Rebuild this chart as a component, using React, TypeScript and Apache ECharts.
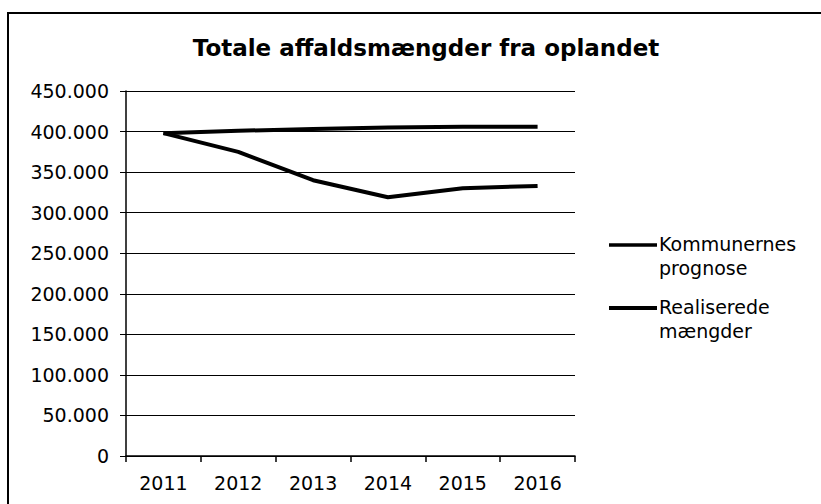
import React, { useEffect, useRef } from "react";
import * as echarts from "echarts";

const categories = ["2011", "2012", "2013", "2014", "2015", "2016"];
const kommunernesPrognose = [398000, 401000, 403000, 405000, 406000, 406000];
const realiseredeMaengder = [398000, 375000, 340000, 319000, 330000, 333000];
const legendLabels = ["Kommunernes\nprognose", "Realiserede\nmængder"];
const titleText = "Totale affaldsmængder fra oplandet";

const FONT = "DejaVu Sans";

function fmt(v: number): string {
  return String(Math.round(v)).replace(/\B(?=(\d{3})+(?!\d))/g, ".");
}

export default function App() {
  const ref = useRef<HTMLDivElement>(null);
  useEffect(() => {
    if (!ref.current) return;
    const chart = echarts.init(ref.current, null, { renderer: "svg" });
    chart.setOption({
      animation: false,
      backgroundColor: "#ffffff",
      title: {
        text: titleText,
        left: 421,
        top: 31,
        textAlign: "center",
        textStyle: { fontFamily: FONT, fontWeight: "bold", fontSize: 23, color: "#000" },
      },
      grid: { left: 126, right: 246, top: 91, bottom: 48 },
      xAxis: {
        type: "category",
        data: categories,
        boundaryGap: true,
        axisLine: { show: true, lineStyle: { color: "#000", width: 1.5 } },
        axisTick: { show: true, length: 6, interval: 0, lineStyle: { color: "#000", width: 1.5 } },
        axisLabel: { margin: 17, fontFamily: FONT, fontSize: 19, color: "#000" },
        splitLine: { show: false },
      },
      yAxis: {
        type: "value",
        min: 0,
        max: 450000,
        interval: 50000,
        axisLine: { show: true, lineStyle: { color: "#000", width: 1.5 } },
        axisTick: { show: true, length: 6, lineStyle: { color: "#000", width: 1 } },
        axisLabel: { margin: 17, fontFamily: FONT, fontSize: 19, color: "#000", formatter: (v: number) => fmt(v) },
        splitLine: { show: true, lineStyle: { color: "#000", width: 1 } },
      },
      series: [
        {
          name: "Kommunernes prognose",
          type: "line",
          data: kommunernesPrognose,
          showSymbol: false,
          symbol: "none",
          lineStyle: { color: "#000", width: 4 },
          itemStyle: { color: "#000" },
        },
        {
          name: "Realiserede mængder",
          type: "line",
          data: realiseredeMaengder,
          showSymbol: false,
          symbol: "none",
          lineStyle: { color: "#000", width: 4 },
          itemStyle: { color: "#000" },
        },
      ],
      graphic: [
        {
          type: "rect",
          shape: { x: 8, y: 13, width: 900, height: 600 },
          style: { fill: "none", stroke: "#000", lineWidth: 2 },
          silent: true,
        },
        {
          type: "line",
          shape: { x1: 609, y1: 245, x2: 657, y2: 245 },
          style: { stroke: "#000", lineWidth: 3.5 },
        },
        {
          type: "text",
          x: 659,
          y: 232,
          style: { text: legendLabels[0], fontFamily: FONT, fontSize: 19, lineHeight: 24, fill: "#000" },
        },
        {
          type: "line",
          shape: { x1: 609, y1: 308, x2: 657, y2: 308 },
          style: { stroke: "#000", lineWidth: 4 },
        },
        {
          type: "text",
          x: 659,
          y: 295,
          style: { text: legendLabels[1], fontFamily: FONT, fontSize: 19, lineHeight: 24, fill: "#000" },
        },
      ],
    });
    return () => chart.dispose();
  }, []);
  return (
    <div
      ref={ref}
      style={{ position: "absolute", left: 0, top: 0, width: 821, height: 504 }}
    />
  );
}
